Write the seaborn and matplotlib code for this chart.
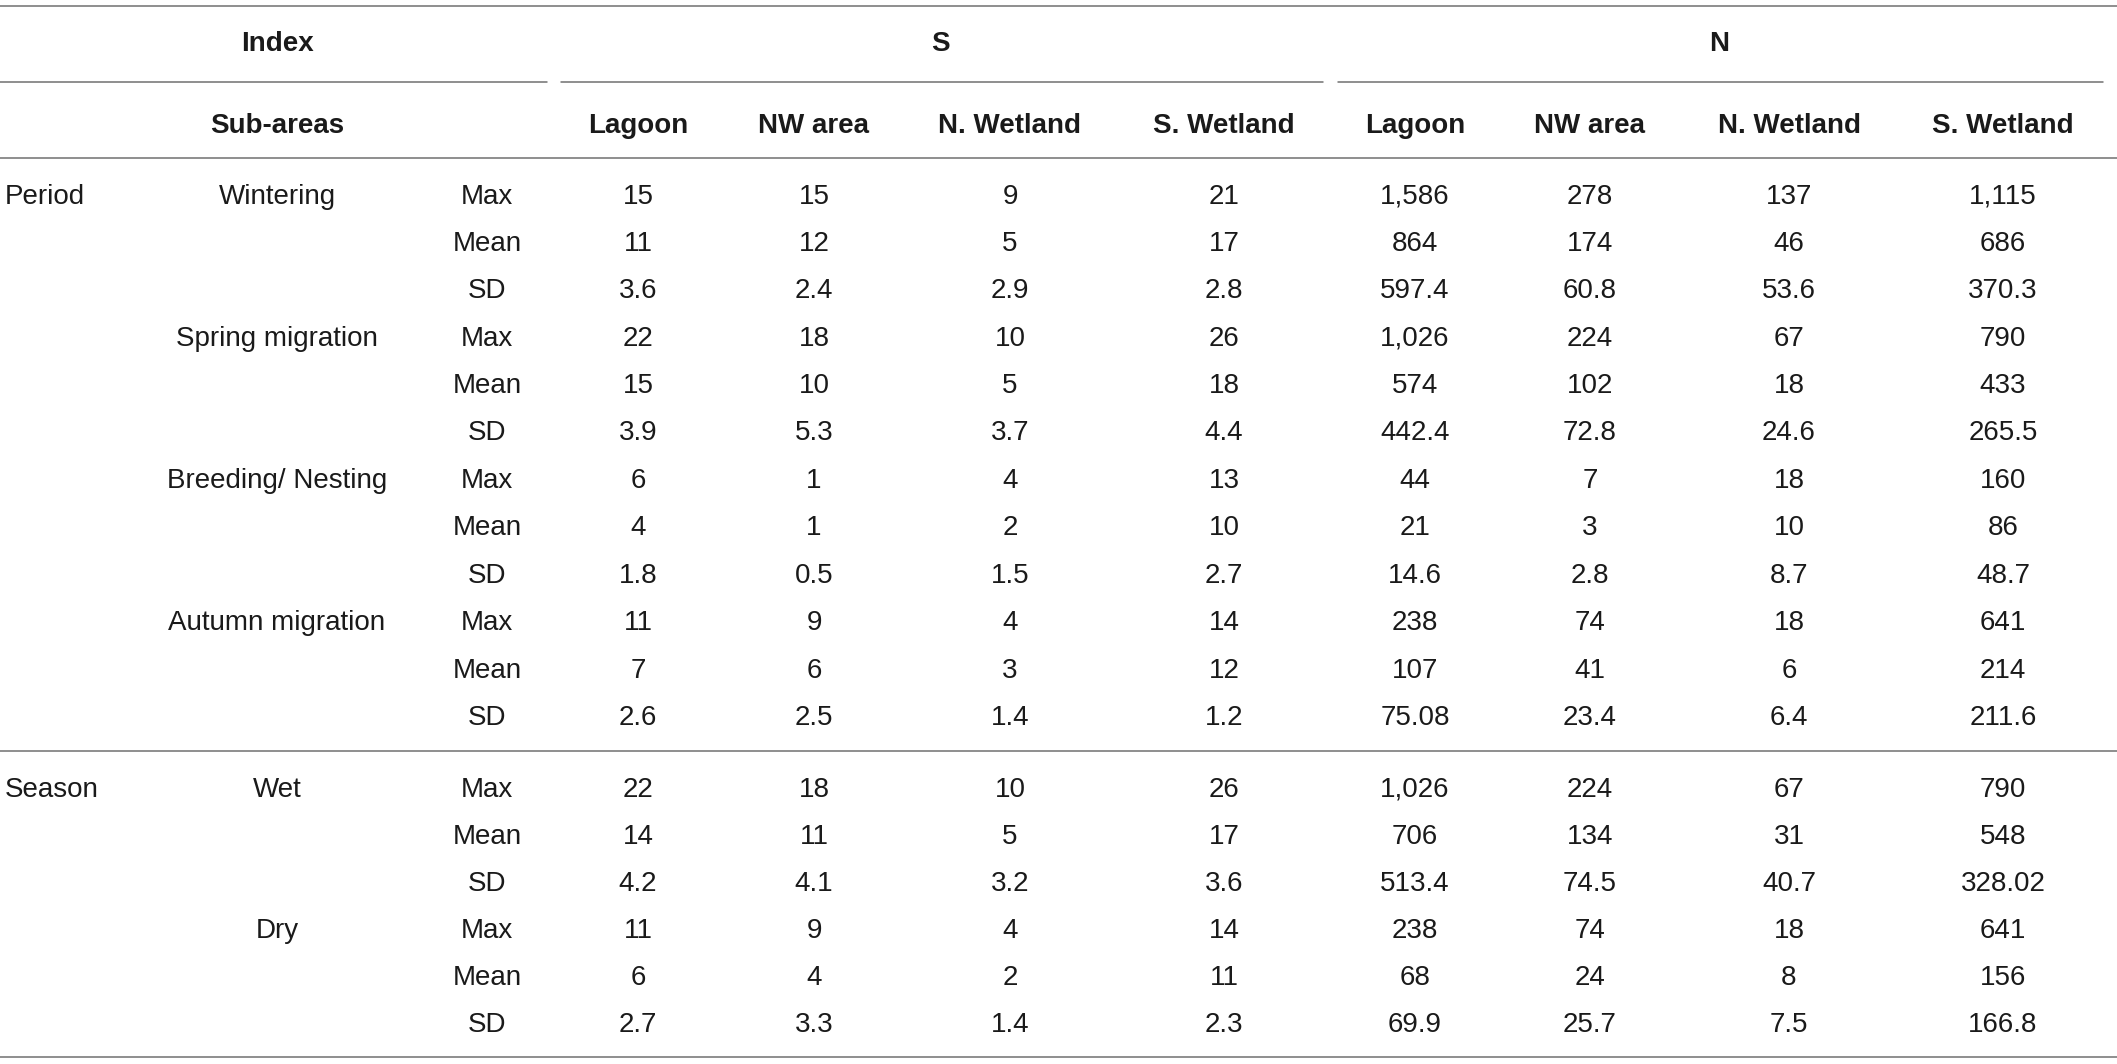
import matplotlib
matplotlib.use("Agg")
import matplotlib.pyplot as plt
import seaborn as sns

# Table content
groups = ["S", "N"]
sub_areas = ["Lagoon", "NW area", "N. Wetland", "S. Wetland"]
stats = ["Max", "Mean", "SD"]
period_labels = ["Wintering", "Spring migration", "Breeding/ Nesting", "Autumn migration"]
season_labels = ["Wet", "Dry"]

# one list per column, rows = (period x stat) then (season x stat)
s_lagoon = ["15", "11", "3.6", "22", "15", "3.9", "6", "4", "1.8", "11", "7", "2.6",
            "22", "14", "4.2", "11", "6", "2.7"]
s_nw = ["15", "12", "2.4", "18", "10", "5.3", "1", "1", "0.5", "9", "6", "2.5",
        "18", "11", "4.1", "9", "4", "3.3"]
s_nwet = ["9", "5", "2.9", "10", "5", "3.7", "4", "2", "1.5", "4", "3", "1.4",
          "10", "5", "3.2", "4", "2", "1.4"]
s_swet = ["21", "17", "2.8", "26", "18", "4.4", "13", "10", "2.7", "14", "12", "1.2",
          "26", "17", "3.6", "14", "11", "2.3"]
n_lagoon = ["1,586", "864", "597.4", "1,026", "574", "442.4", "44", "21", "14.6",
            "238", "107", "75.08", "1,026", "706", "513.4", "238", "68", "69.9"]
n_nw = ["278", "174", "60.8", "224", "102", "72.8", "7", "3", "2.8", "74", "41", "23.4",
        "224", "134", "74.5", "74", "24", "25.7"]
n_nwet = ["137", "46", "53.6", "67", "18", "24.6", "18", "10", "8.7", "18", "6", "6.4",
          "67", "31", "40.7", "18", "8", "7.5"]
n_swet = ["1,115", "686", "370.3", "790", "433", "265.5", "160", "86", "48.7",
          "641", "214", "211.6", "790", "548", "328.02", "641", "156", "166.8"]
columns = [s_lagoon, s_nw, s_nwet, s_swet, n_lagoon, n_nw, n_nwet, n_swet]

sns.set_theme(style="white")
plt.rcParams["font.family"] = ["Liberation Sans", "DejaVu Sans"]

W, H = 2117, 1064
fig = plt.figure(figsize=(W / 100, H / 100), dpi=100)
ax = fig.add_axes([0, 0, 1, 1])
ax.set_xlim(0, W)
ax.set_ylim(H, 0)
ax.axis("off")

txt = "#1a1a1a"
line_c = "#707070"
fs = 20
lw = 1.1

# layout
col_x = [638, 814, 1010, 1224, 1415, 1590, 1789, 2003]
group_x = [940, 1719]
sub_x = 277
stat_x = 487
period_base = 203.5
period_step = 47.4
season_base = 797.0
season_step = 47.0

# rules
ax.plot([0, W], [5.5, 5.5], color=line_c, lw=lw)
for x0, x1 in [(0, 547), (561, 1323), (1338, 2103)]:
    ax.plot([x0, x1], [82.3, 82.3], color=line_c, lw=lw)
ax.plot([0, W], [158, 158], color=line_c, lw=lw)
ax.plot([0, W], [750.5, 750.5], color=line_c, lw=lw)
ax.plot([0, W], [1057, 1057], color=line_c, lw=lw)

# headers
ax.text(sub_x, 51, "Index", ha="center", va="baseline", fontsize=fs,
        fontweight="bold", color=txt)
for g, gx in zip(groups, group_x):
    ax.text(gx, 51, g, ha="center", va="baseline", fontsize=fs,
            fontweight="bold", color=txt)
ax.text(sub_x, 133.3, "Sub-areas", ha="center", va="baseline", fontsize=fs,
        fontweight="bold", color=txt)
for i, cx in enumerate(col_x):
    ax.text(cx, 133.3, sub_areas[i % 4], ha="center", va="baseline",
            fontsize=fs, fontweight="bold", color=txt)

# body rows
row_y = [period_base + k * period_step for k in range(len(period_labels) * 3)]
row_y += [season_base + k * season_step for k in range(len(season_labels) * 3)]

ax.text(5, row_y[0], "Period", ha="left", va="baseline", fontsize=fs, color=txt)
ax.text(5, row_y[12], "Season", ha="left", va="baseline", fontsize=fs, color=txt)
for i, lab in enumerate(period_labels + season_labels):
    ax.text(sub_x, row_y[i * 3], lab, ha="center", va="baseline",
            fontsize=fs, color=txt)

for r, y in enumerate(row_y):
    ax.text(stat_x, y, stats[r % 3], ha="center", va="baseline",
            fontsize=fs, color=txt)
    for cx, col in zip(col_x, columns):
        ax.text(cx, y, col[r], ha="center", va="baseline", fontsize=fs, color=txt)

fig.savefig("out.png", dpi=100, facecolor="white")
